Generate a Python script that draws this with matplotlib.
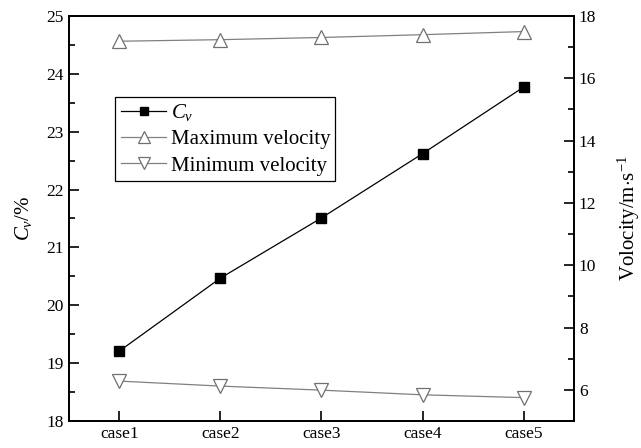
import matplotlib
matplotlib.use('Agg')
from matplotlib import pyplot as plt
from matplotlib.ticker import MultipleLocator

cases = ["case1", "case2", "case3", "case4", "case5"]
cv = [19.21, 20.47, 21.51, 22.62, 23.77]
max_velocity = [17.19, 17.24, 17.31, 17.40, 17.50]
min_velocity = [6.28, 6.12, 5.99, 5.84, 5.75]

plt.rcParams['font.family'] = ['Liberation Serif', 'DejaVu Serif']
plt.rcParams['mathtext.fontset'] = 'custom'
plt.rcParams['mathtext.it'] = 'Liberation Serif:italic'
plt.rcParams['mathtext.rm'] = 'Liberation Serif'
plt.rcParams['font.size'] = 12.5

fig = plt.figure(figsize=(6.41, 4.48), dpi=100)
ax = fig.add_axes([0.1076, 0.0603, 0.7879, 0.904])
ax2 = ax.twinx()

x = list(range(1, len(cases) + 1))
l1, = ax.plot(x, cv, color="black", lw=0.9, marker="s", ms=7, mfc="black", mec="black",
              label="$C_v$")
l2, = ax2.plot(x, max_velocity, color="#808080", lw=0.9, marker="^", ms=10, mfc="white",
               mec="#707070", mew=0.9, label="Maximum velocity")
l3, = ax2.plot(x, min_velocity, color="#808080", lw=0.9, marker="v", ms=10, mfc="white",
               mec="#707070", mew=0.9, label="Minimum velocity")

ax.set_xlim(0.5, 5.5)
ax.set_xticks(x)
ax.set_xticklabels(cases)
ax.set_ylim(18, 25)
ax.yaxis.set_major_locator(MultipleLocator(1))
ax.yaxis.set_minor_locator(MultipleLocator(0.5))
ax2.set_ylim(5, 18)
ax2.set_yticks([6, 8, 10, 12, 14, 16, 18])
ax2.yaxis.set_minor_locator(MultipleLocator(1))

ax.set_ylabel("$C_v$/%", fontsize=15, labelpad=9)
ax2.set_ylabel("Volocity/m$\\cdot$s$^{-1}$", fontsize=15, labelpad=14)

for a in (ax, ax2):
    for s in a.spines.values():
        s.set_linewidth(1.3)
ax.tick_params(axis="both", which="major", direction="in", length=7, width=1.2, top=False)
ax.tick_params(axis="both", which="minor", direction="in", length=4, width=1.2)
ax.tick_params(axis="x", which="minor", bottom=False)
ax2.tick_params(axis="y", which="major", direction="in", length=7, width=1.2)
ax2.tick_params(axis="y", which="minor", direction="in", length=4, width=1.2)

leg = ax.legend(handles=[l1, l2, l3], loc="upper left", bbox_to_anchor=(0.092, 0.80),
                frameon=True, fancybox=False, edgecolor="black", framealpha=1,
                borderpad=0.25, handlelength=2.2, handletextpad=0.2, labelspacing=0.32,
                borderaxespad=0, fontsize=15, markerscale=0.8)
leg.get_frame().set_linewidth(0.9)

plt.savefig("out.png", dpi=100)
